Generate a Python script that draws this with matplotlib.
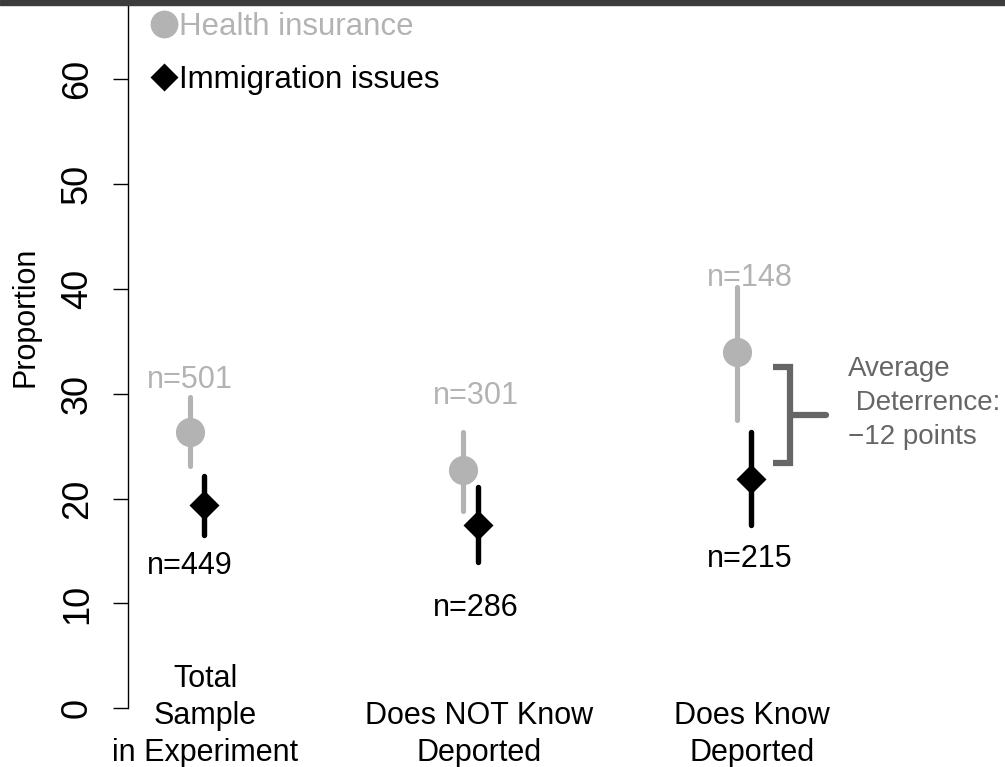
import matplotlib
matplotlib.use("Agg")
import matplotlib.pyplot as plt
from matplotlib.lines import Line2D
from matplotlib.patches import Rectangle
from matplotlib.transforms import blended_transform_factory

plt.rcParams['font.family'] = ['Liberation Sans', 'DejaVu Sans']

# groups and estimates (percent)
groups = ["Total\nSample\nin Experiment", "Does NOT Know\nDeported", "Does Know\nDeported"]
positions = [1, 2, 3]

health_est = [26.4, 22.7, 34.0]
health_lo = [23.1, 18.8, 27.5]
health_hi = [29.7, 26.4, 40.2]
immig_est = [19.4, 17.5, 21.9]
immig_lo = [16.5, 14.0, 17.5]
immig_hi = [22.2, 21.1, 26.4]

health_n = [501, 301, 148]
immig_n = [449, 286, 215]
# heights where the n= labels sit
health_n_y = [31.3, 29.8, 41.1]
immig_n_y = [13.6, 9.6, 14.2]

# bracket showing the average deterrence
bracket_top = 32.6
bracket_bottom = 23.4
deterrence = -12

gray = '#b3b3b3'
dark = '#666666'
off = 0.026

fig = plt.figure(figsize=(10.05, 7.67), dpi=100)
ax = fig.add_axes([128 / 1005, 58.7 / 767, 877 / 1005, 703.3 / 767])
ax.set_xlim(0.7477, 3.954)
ax.set_ylim(0, 67.1)

for i, p in enumerate(positions):
    ax.plot([p - off, p - off], [health_lo[i], health_hi[i]], color=gray, lw=3.7,
            solid_capstyle='round', zorder=2)
    ax.plot([p - off], [health_est[i]], marker='o', ms=21, color=gray, mec='none', zorder=3)
    ax.plot([p + off, p + off], [immig_lo[i], immig_hi[i]], color='black', lw=3.9,
            solid_capstyle='round', zorder=2)
    ax.plot([p + off], [immig_est[i]], marker='D', ms=15, color='black', mec='none', zorder=3)

# n labels
n_dx = [-off, 0.02, 0.022]
for i, p in enumerate(positions):
    ax.text(p + n_dx[i], health_n_y[i], "n=%d" % health_n[i], color=gray, fontsize=22,
            ha='center', va='center')
    ax.text(p + n_dx[i], immig_n_y[i], "n=%d" % immig_n[i], color='black', fontsize=22,
            ha='center', va='center')

# group labels under the plot (data x, figure y)
trans = blended_transform_factory(ax.transData, fig.transFigure)
for i, p in enumerate(positions):
    ax.text(p + 0.03, -1 / 767, groups[i], transform=trans,
            fontsize=22, ha='center', va='bottom', linespacing=1.3)

# deterrence bracket
bx = 3.168
ax.plot([3.106, bx, bx, 3.106], [bracket_top, bracket_top, bracket_bottom, bracket_bottom],
        color=dark, lw=4.5, solid_capstyle='butt', solid_joinstyle='miter')
mid = (bracket_top + bracket_bottom) / 2
ax.plot([bx, 3.30], [mid, mid], color=dark, lw=4.5, solid_capstyle='round')
ax.text(3.38, 29.1, "Average\n Deterrence:\n\u2212%d points" % abs(deterrence), color=dark,
        fontsize=20, ha='left', va='center', linespacing=1.39)

# axes styling
for s in ['top', 'right', 'bottom']:
    ax.spines[s].set_visible(False)
ax.spines['left'].set_linewidth(1)
ax.spines['left'].set_bounds(0, 67.1)
ax.set_xticks([])
ax.set_yticks(range(0, 70, 10))
ax.tick_params(axis='y', length=10.8, width=1, pad=13, labelsize=26)
for lab in ax.get_yticklabels():
    lab.set_rotation(90)
    lab.set_va('center')

ax.set_ylabel("Proportion", fontsize=22)
ax.yaxis.set_label_coords(-0.117, 0.556)
ax.yaxis.label.set_va('center')

# legend
handles = [Line2D([], [], ls='none', marker='o', ms=20, color=gray, mec='none'),
           Line2D([], [], ls='none', marker='D', ms=14, color='black', mec='none')]
ax.legend(handles, ["Health insurance", "Immigration issues"], loc='upper left',
          bbox_to_anchor=(20 / 877, 1.0 - 7 / 703.3), frameon=False, fontsize=22.5,
          handlelength=1.0, handletextpad=0.0, labelspacing=0.74, borderpad=0,
          borderaxespad=0, labelcolor=[gray, 'black'])

# dark strip at top
fig.patches.append(Rectangle((0, 1 - 5 / 767), 1, 5 / 767, transform=fig.transFigure,
                             color='#3c3c3c', zorder=5))

fig.savefig("out.png", dpi=100)
